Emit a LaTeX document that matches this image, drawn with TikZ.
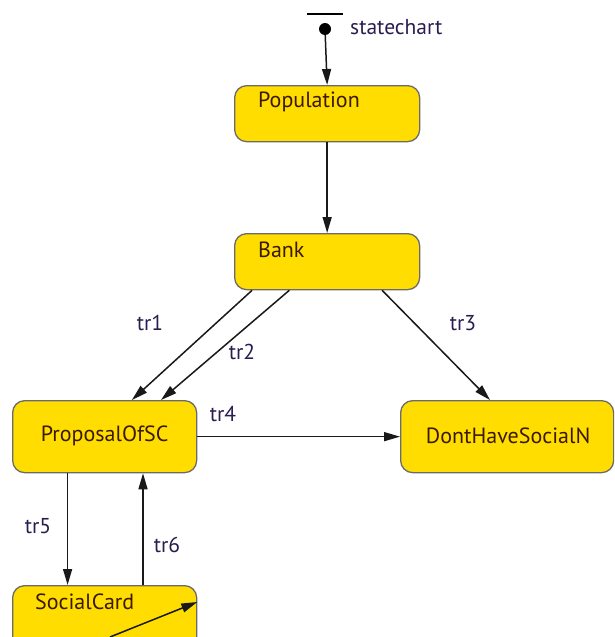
\documentclass[tikz,border=0pt]{standalone}
\usepackage{fontspec}
\setmainfont{PT Sans}
\usetikzlibrary{calc}
\usetikzlibrary{arrows.meta}

\definecolor{stfill}{HTML}{FFDD00}
\definecolor{stline}{HTML}{6A6A6A}
\definecolor{sttext}{HTML}{3A1A00}
\definecolor{trtext}{HTML}{2A1C50}

\begin{document}
\begin{tikzpicture}[x=1pt,y=-1pt,
    state/.style={draw=stline,fill=stfill,line width=1.3pt,rounded corners=12pt,
                  inner sep=0pt,anchor=north west},
    statename/.style={font=\fontsize{22}{26}\selectfont,text=sttext,inner sep=0pt},
    trname/.style={font=\fontsize{21.5}{26}\selectfont,text=trtext,inner sep=0pt},
    trans/.style={draw=black!90,line width=1.5pt,-{Triangle[length=16pt,width=9pt]}}]

            % Picture frame
            \useasboundingbox (0,0) rectangle (614,637);
            \clip (0,0) rectangle (614,637);

            % Initial pseudo state
            \coordinate (barL) at (307,14);
            \coordinate (barR) at (343,14);
            \draw[line width=2.4pt] (barL) -- (barR);
            \node[circle,fill=black,inner sep=0pt,minimum size=12pt] (init) at (325,29) {};
            \node[trname,anchor=west] (chartname) at (350,27) {statechart};

            % Draw the states
            \node[state,minimum width=185pt,minimum height=56pt] (pop) at (234,85) {};
            \node[state,minimum width=185pt,minimum height=56pt] (bank) at (234,233) {};
            \node[state,minimum width=184pt,minimum height=72pt] (prop) at (12,400) {};
            \node[state,minimum width=213pt,minimum height=72pt] (dont) at (400,400) {};
            \node[state,minimum width=184pt,minimum height=72pt] (card) at (12,585) {};

            % State names
            \node[statename,anchor=west] (popname) at ($(pop.north west)+(24,17)$) {Population};
            \node[statename,anchor=west] (bankname) at ($(bank.north west)+(24,17)$) {Bank};
            \node[statename] (propname) at ($(prop.center)+(0,-1)$) {ProposalOfSC};
            \node[statename] (dontname) at ($(dont.center)+(1,-1)$) {DontHaveSocialN};
            \node[statename,anchor=west] (cardname) at ($(card.north west)+(23,17)$) {SocialCard};

            % Draw the transitions
            \draw[trans] (init) -- (pop.north);
            \draw[trans] (pop.south) -- (bank.north);
            \draw[trans] ($(bank.south west)!0.097!(bank.south east)$) -- ($(prop.north west)!0.647!(prop.north east)$);
            \draw[trans] ($(bank.south west)!0.297!(bank.south east)$) -- ($(prop.north west)!0.804!(prop.north east)$);
            \draw[trans] ($(bank.south west)!0.795!(bank.south east)$) -- ($(dont.north west)!0.42!(dont.north east)$);
            \draw[trans] ($(prop.north east)!0.5!(prop.south east)$) -- ($(dont.north west)!0.5!(dont.south west)$);
            \draw[trans] ($(prop.south west)!0.3!(prop.south east)$) -- ($(card.north west)!0.3!(card.north east)$);
            \draw[trans] ($(card.north west)!0.707!(card.north east)$) -- ($(prop.south west)!0.707!(prop.south east)$);

            % Loop on SocialCard
            \coordinate (loopA) at (110,637);
            \draw[trans] (loopA) -- ($(card.north east)+(0,17)$);

            % Transition names
            \node[trname] (tr1) at (150,323) {tr1};
            \node[trname] (tr2) at (242,352) {tr2};
            \node[trname] (tr3) at (463,323) {tr3};
            \node[trname] (tr4) at (223,414) {tr4};
            \node[trname] (tr5) at (38,526) {tr5};
            \node[trname] (tr6) at (167,545) {tr6};

\end{tikzpicture}
\end{document}
